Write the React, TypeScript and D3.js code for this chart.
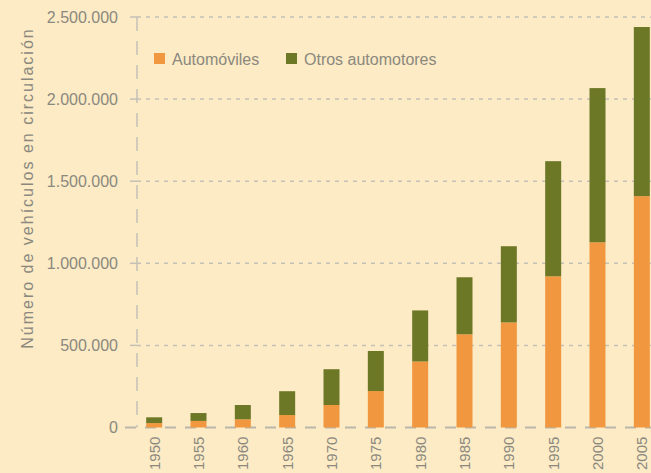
import React from "react";
import * as d3 from "d3";

const years = ["1950", "1955", "1960", "1965", "1970", "1975", "1980", "1985", "1990", "1995", "2000", "2005"];
const automoviles = [27000, 40000, 50000, 76000, 137000, 222000, 402000, 568000, 640000, 921000, 1128000, 1409000];
const otrosAutomotores = [35000, 48000, 87000, 145000, 218000, 244000, 311000, 347000, 464000, 701000, 939000, 1030000];
const yTicks = [0, 500000, 1000000, 1500000, 2000000, 2500000];
const seriesNames = ["Automóviles", "Otros automotores"];
const seriesColors = ["#f0973f", "#6d7826"];

const W = 651;
const H = 473;
const FONT = "'Liberation Sans', Arial, sans-serif";
const TEXT = "#8b887e";

const fmt = (v: number) => (v === 0 ? "0" : d3.format(",")(v).replace(/,/g, "."));

export default function App() {
  const x = d3.scalePoint<string>().domain(years).range([132, 664]).padding(0.5);
  const y = d3.scaleLinear().domain([0, 2500000]).range([427.5, 17]);
  const axisX = 137;
  const barW = 16;

  const table = years.map((yr, i) => ({ year: yr, a: automoviles[i], o: otrosAutomotores[i] }));
  const stack = d3.stack<any>().keys(["a", "o"])(table);

  return (
    <svg width={W} height={H} style={{ position: "absolute", left: 0, top: 0, background: "#fcebc5" }} fontFamily={FONT}>
      <rect x={0} y={0} width={W} height={H} fill="#fcebc5" />
      {/* gridlines */}
      {yTicks.filter((t) => t > 0).map((t) => (
        <g key={t}>
          <line x1={axisX} x2={W} y1={y(t)} y2={y(t)} stroke="#c4c0b6" strokeWidth={1.5} strokeDasharray="4,5" />
          <line x1={130} x2={axisX} y1={y(t)} y2={y(t)} stroke="#c4c0b6" strokeWidth={1.5} />
          <text x={118} y={y(t)} dy="0.36em" textAnchor="end" fontSize={16} fill={TEXT}>{fmt(t)}</text>
        </g>
      ))}
      {/* vertical axis */}
      <line x1={axisX} x2={axisX} y1={y(2500000)} y2={y(0)} stroke="#c4c0b6" strokeWidth={1.5} strokeDasharray="14,10" />
      {/* baseline */}
      <line x1={125} x2={W} y1={y(0)} y2={y(0)} stroke="#b9b5ab" strokeWidth={1.8} strokeDasharray="11,9" />
      <text x={118} y={y(0)} dy="0.36em" textAnchor="end" fontSize={16} fill={TEXT}>0</text>
      {/* bars */}
      {stack.map((s, si) => (
        <g key={si} fill={seriesColors[si]}>
          {s.map((d: any, i: number) => (
            <rect key={i} x={(x(years[i]) as number) - barW / 2} width={barW} y={y(d[1])} height={y(d[0]) - y(d[1])} />
          ))}
        </g>
      ))}
      {/* x labels */}
      {years.map((yr) => (
        <text key={yr} transform={`translate(${(x(yr) as number) + 5.5},${470}) rotate(-90)`} fontSize={15} fill={TEXT}>{yr}</text>
      ))}
      {/* y title */}
      <text transform={`translate(33,188) rotate(-90)`} textAnchor="middle" fontSize={16} letterSpacing={2} fill={TEXT}>Número de vehículos en circulación</text>
      {/* legend */}
      <rect x={154} y={53} width={11} height={11} fill={seriesColors[0]} />
      <text x={172} y={64.5} fontSize={16} fill={TEXT}>{seriesNames[0]}</text>
      <rect x={286} y={53} width={11} height={11} fill={seriesColors[1]} />
      <text x={304} y={64.5} fontSize={16} fill={TEXT}>{seriesNames[1]}</text>
    </svg>
  );
}
